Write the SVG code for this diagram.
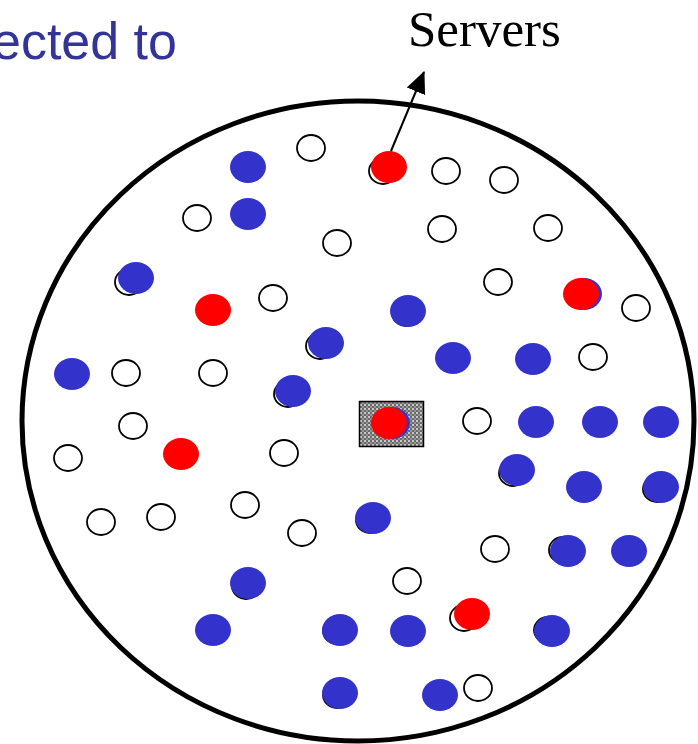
<svg xmlns="http://www.w3.org/2000/svg" width="698" height="744" viewBox="0 0 698 744">
  <style>
    .peer { fill: #ffffff; stroke: #000000; stroke-width: 1.8; }
    .user { fill: #3333cc; }
    .server { fill: #ff0000; }
    .edge { stroke: #000000; stroke-width: 2; fill: none; }
    .title { font-family: "Liberation Sans", Arial, sans-serif; font-size: 52px; fill: #333399; }
    .label { font-family: "Liberation Serif", "Times New Roman", serif; font-size: 51px; fill: #000000; }
  </style>
  <defs>
    <pattern id="checker" width="4" height="4" patternUnits="userSpaceOnUse">
      <rect width="4" height="4" fill="#6a6a6a"/>
      <rect x="0" y="0" width="2" height="2" fill="#c8c8c8"/>
      <rect x="2" y="2" width="2" height="2" fill="#959595"/>
    </pattern>
    <marker id="tip" viewBox="0 0 20 20" refX="19" refY="10" markerWidth="22" markerHeight="22" markerUnits="userSpaceOnUse" orient="auto">
      <path d="M0,1 L20,10 L0,19 z" fill="#000000"/>
    </marker>
  </defs>

  <rect width="698" height="744" fill="#ffffff"/>

  <!-- headings -->
  <text class="title" x="177" y="59" text-anchor="end">ected to</text>
  <text class="label" x="408" y="46">Servers</text>

  <!-- network boundary -->
  <ellipse id="network" cx="358" cy="421" rx="336" ry="320" fill="none" stroke="#000000" stroke-width="5"/>

  <!-- central node box -->
  <g id="hub">
    <rect x="359.5" y="401.5" width="64" height="45" fill="url(#checker)" stroke="#000000" stroke-width="1.5"/>
    <ellipse class="user" cx="392" cy="423" rx="18" ry="16"/>
    <ellipse class="server" cx="389" cy="423" rx="18" ry="16"/>
  </g>

  <!-- idle peers -->
  <g id="peers">
    <ellipse id="p1" class="peer" cx="311" cy="148" rx="14" ry="13"/>
    <ellipse id="p2" class="peer" cx="446" cy="171" rx="14" ry="13"/>
    <ellipse id="p3" class="peer" cx="504" cy="180" rx="14" ry="13"/>
    <ellipse id="p4" class="peer" cx="197" cy="218" rx="14" ry="13"/>
    <ellipse id="p5" class="peer" cx="337" cy="243" rx="14" ry="13"/>
    <ellipse id="p6" class="peer" cx="442" cy="229" rx="14" ry="13"/>
    <ellipse id="p7" class="peer" cx="548" cy="228" rx="14" ry="13"/>
    <ellipse id="p8" class="peer" cx="273" cy="298" rx="14" ry="13"/>
    <ellipse id="p9" class="peer" cx="498" cy="282" rx="14" ry="13"/>
    <ellipse id="p10" class="peer" cx="636" cy="308" rx="14" ry="13"/>
    <ellipse id="p11" class="peer" cx="593" cy="357" rx="14" ry="13"/>
    <ellipse id="p12" class="peer" cx="126" cy="373" rx="14" ry="13"/>
    <ellipse id="p13" class="peer" cx="213" cy="373" rx="14" ry="13"/>
    <ellipse id="p14" class="peer" cx="133" cy="426" rx="14" ry="13"/>
    <ellipse id="p15" class="peer" cx="477" cy="421" rx="14" ry="13"/>
    <ellipse id="p16" class="peer" cx="68" cy="458" rx="14" ry="13"/>
    <ellipse id="p17" class="peer" cx="284" cy="453" rx="14" ry="13"/>
    <ellipse id="p18" class="peer" cx="101" cy="522" rx="14" ry="13"/>
    <ellipse id="p19" class="peer" cx="161" cy="517" rx="14" ry="13"/>
    <ellipse id="p20" class="peer" cx="245" cy="505" rx="14" ry="13"/>
    <ellipse id="p21" class="peer" cx="302" cy="533" rx="14" ry="13"/>
    <ellipse id="p22" class="peer" cx="495" cy="549" rx="14" ry="13"/>
    <ellipse id="p23" class="peer" cx="407" cy="581" rx="14" ry="13"/>
    <ellipse id="p24" class="peer" cx="478" cy="688" rx="14" ry="13"/>
  </g>

  <!-- active peers (outline of the peer left behind each) -->
  <g id="users">
    <g id="u1"><ellipse class="user" cx="248" cy="167" rx="18" ry="16"/></g>
    <g id="u2"><ellipse class="user" cx="248" cy="214" rx="18" ry="16"/></g>
    <g id="u3"><ellipse class="peer" cx="129" cy="282" rx="14" ry="13"/><ellipse class="user" cx="136" cy="278" rx="18" ry="16"/></g>
    <g id="u4"><ellipse class="peer" cx="406" cy="313" rx="14" ry="13"/><ellipse class="user" cx="408" cy="311" rx="18" ry="16"/></g>
    <g id="u5"><ellipse class="peer" cx="320" cy="346" rx="14" ry="13"/><ellipse class="user" cx="326" cy="343" rx="18" ry="16"/></g>
    <g id="u6"><ellipse class="user" cx="453" cy="358" rx="18" ry="16"/></g>
    <g id="u7"><ellipse class="user" cx="533" cy="359" rx="18" ry="16"/></g>
    <g id="u8"><ellipse class="user" cx="72" cy="374" rx="18" ry="16"/></g>
    <g id="u9"><ellipse class="peer" cx="288" cy="394" rx="14" ry="13"/><ellipse class="user" cx="293" cy="391" rx="18" ry="16"/></g>
    <g id="u10"><ellipse class="user" cx="536" cy="422" rx="18" ry="16"/></g>
    <g id="u11"><ellipse class="user" cx="600" cy="422" rx="18" ry="16"/></g>
    <g id="u12"><ellipse class="user" cx="661" cy="422" rx="18" ry="16"/></g>
    <g id="u13"><ellipse class="peer" cx="513" cy="473" rx="14" ry="13"/><ellipse class="user" cx="517" cy="470" rx="18" ry="16"/></g>
    <g id="u14"><ellipse class="user" cx="584" cy="487" rx="18" ry="16"/></g>
    <g id="u15"><ellipse class="peer" cx="657" cy="489" rx="14" ry="13"/><ellipse class="user" cx="661" cy="487" rx="18" ry="16"/></g>
    <g id="u16"><ellipse class="peer" cx="370" cy="520" rx="14" ry="13"/><ellipse class="user" cx="373" cy="518" rx="18" ry="16"/></g>
    <g id="u17"><ellipse class="peer" cx="563" cy="550" rx="14" ry="13"/><ellipse class="user" cx="568" cy="551" rx="18" ry="16"/></g>
    <g id="u18"><ellipse class="user" cx="629" cy="551" rx="18" ry="16"/></g>
    <g id="u19"><ellipse class="peer" cx="246" cy="586" rx="14" ry="13"/><ellipse class="user" cx="248" cy="583" rx="18" ry="16"/></g>
    <g id="u20"><ellipse class="user" cx="213" cy="630" rx="18" ry="16"/></g>
    <g id="u21"><ellipse class="peer" cx="337" cy="631" rx="14" ry="13"/><ellipse class="user" cx="340" cy="630" rx="18" ry="16"/></g>
    <g id="u22"><ellipse class="user" cx="408" cy="631" rx="18" ry="16"/></g>
    <g id="u23"><ellipse class="peer" cx="548" cy="630" rx="14" ry="13"/><ellipse class="user" cx="552" cy="631" rx="18" ry="16"/></g>
    <g id="u24"><ellipse class="peer" cx="337" cy="695" rx="14" ry="13"/><ellipse class="user" cx="340" cy="693" rx="18" ry="16"/></g>
    <g id="u25"><ellipse class="user" cx="440" cy="695" rx="18" ry="16"/></g>
  </g>

  <!-- servers -->
  <g id="servers">
    <g id="s1"><ellipse class="peer" cx="383" cy="171" rx="14" ry="13"/><ellipse class="server" cx="389" cy="167" rx="18" ry="16"/></g>
    <g id="s2"><ellipse class="server" cx="213" cy="310" rx="18" ry="16"/></g>
    <g id="s3"><ellipse class="user" cx="584" cy="294" rx="18" ry="16"/><ellipse class="server" cx="581" cy="294" rx="18" ry="16"/></g>
    <g id="s4"><ellipse class="server" cx="181" cy="454" rx="18" ry="16"/></g>
    <g id="s5"><ellipse class="peer" cx="464" cy="618" rx="14" ry="13"/><ellipse class="server" cx="472" cy="614" rx="18" ry="16"/></g>
  </g>

  <!-- connectors -->
  <g id="connectors">
    <line class="edge" x1="391" y1="151" x2="424" y2="72" marker-end="url(#tip)"/>
  </g>
</svg>
